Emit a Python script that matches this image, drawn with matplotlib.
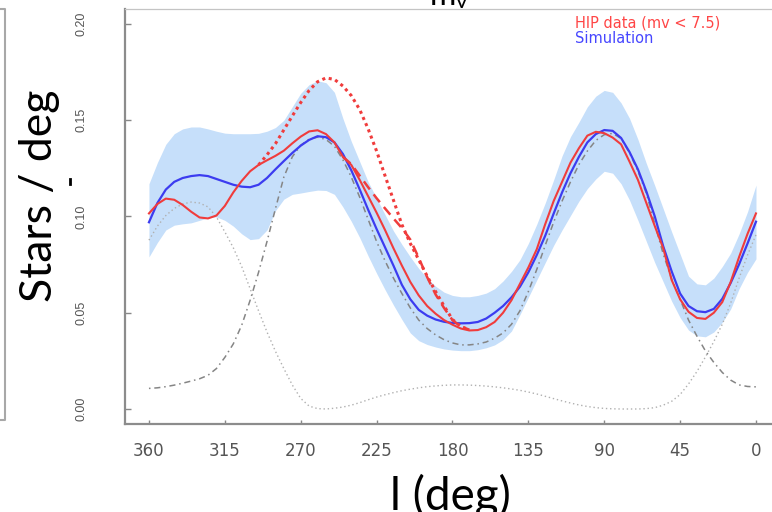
import numpy as np
import matplotlib
matplotlib.use("Agg")
import matplotlib.pyplot as plt
from matplotlib.lines import Line2D

# galactic longitude grid, 360 -> 0 in 5 deg steps
lon = np.arange(360, -1, -5)

sim = [0.0970, 0.1070, 0.1140, 0.1180, 0.1200, 0.1210, 0.1215, 0.1210, 0.1195, 0.1180,
       0.1165, 0.1155, 0.1152, 0.1165, 0.1200, 0.1245, 0.1288, 0.1330, 0.1368, 0.1398,
       0.1417, 0.1412, 0.1385, 0.1325, 0.1240, 0.1140, 0.1035, 0.0935, 0.0840, 0.0745,
       0.0645, 0.0570, 0.0515, 0.0485, 0.0465, 0.0453, 0.0447, 0.0445, 0.0446, 0.0452,
       0.0470, 0.0500, 0.0535, 0.0580, 0.0635, 0.0710, 0.0800, 0.0900, 0.1015, 0.1125,
       0.1225, 0.1310, 0.1385, 0.1428, 0.1449, 0.1445, 0.1408, 0.1335, 0.1245, 0.1130,
       0.1000, 0.0845, 0.0715, 0.0600, 0.0535, 0.0508, 0.0503, 0.0520, 0.0572, 0.0655,
       0.0752, 0.0860, 0.0973]

hip = [0.1016, 0.1065, 0.1093, 0.1087, 0.1060, 0.1025, 0.0995, 0.0990, 0.1005, 0.1055,
       0.1125, 0.1185, 0.1235, 0.1268, 0.1292, 0.1315, 0.1342, 0.1380, 0.1415, 0.1442,
       0.1448, 0.1428, 0.1385, 0.1310, 0.1268, 0.1190, 0.1105, 0.1020, 0.0930, 0.0835,
       0.0745, 0.0660, 0.0590, 0.0535, 0.0495, 0.0462, 0.0438, 0.0418, 0.0408, 0.0410,
       0.0425, 0.0452, 0.0500, 0.0565, 0.0650, 0.0735, 0.0830, 0.0960, 0.1080, 0.1180,
       0.1280, 0.1355, 0.1420, 0.1440, 0.1433, 0.1410, 0.1375, 0.1285, 0.1190, 0.1070,
       0.0950, 0.0835, 0.0670, 0.0570, 0.0505, 0.0473, 0.0468, 0.0500, 0.0555, 0.0660,
       0.0790, 0.0910, 0.1016]

sim_hi = [0.1170, 0.1280, 0.1375, 0.1430, 0.1455, 0.1465, 0.1465, 0.1455, 0.1443, 0.1433,
          0.1430, 0.1430, 0.1430, 0.1432, 0.1443, 0.1462, 0.1500, 0.1570, 0.1640, 0.1685,
          0.1705, 0.1695, 0.1645, 0.1510, 0.1390, 0.1285, 0.1180, 0.1095, 0.1010, 0.0925,
          0.0855, 0.0790, 0.0730, 0.0680, 0.0638, 0.0607, 0.0590, 0.0583, 0.0583, 0.0590,
          0.0602, 0.0625, 0.0665, 0.0715, 0.0775, 0.0860, 0.0960, 0.1070, 0.1190, 0.1315,
          0.1415, 0.1490, 0.1570, 0.1625, 0.1655, 0.1645, 0.1590, 0.1510, 0.1400, 0.1275,
          0.1160, 0.1040, 0.0920, 0.0805, 0.0690, 0.0650, 0.0645, 0.0680, 0.0740, 0.0810,
          0.0910, 0.1025, 0.1163]

sim_lo = [0.0790, 0.0865, 0.0930, 0.0955, 0.0962, 0.0967, 0.0980, 0.0993, 0.0998, 0.0980,
          0.0950, 0.0910, 0.0880, 0.0885, 0.0930, 0.1030, 0.1090, 0.1115, 0.1122, 0.1130,
          0.1137, 0.1135, 0.1115, 0.1050, 0.0975, 0.0890, 0.0795, 0.0705, 0.0620, 0.0540,
          0.0465, 0.0395, 0.0355, 0.0335, 0.0322, 0.0312, 0.0306, 0.0303, 0.0303, 0.0308,
          0.0318, 0.0333, 0.0360, 0.0405, 0.0490, 0.0580, 0.0670, 0.0760, 0.0850, 0.0930,
          0.1005, 0.1080, 0.1145, 0.1195, 0.1235, 0.1225, 0.1170, 0.1085, 0.0980, 0.0870,
          0.0760, 0.0660, 0.0560, 0.0475, 0.0410, 0.0380, 0.0375, 0.0400, 0.0450, 0.0520,
          0.0625, 0.0710, 0.0780]

# model components
comp_thin = [0.0877, 0.0950, 0.1005, 0.1042, 0.1065, 0.1075, 0.1070, 0.1050, 0.0998, 0.0920,
             0.0838, 0.0740, 0.0625, 0.0510, 0.0400, 0.0300, 0.0210, 0.0125, 0.0055, 0.0015,
             0.0002, 0.0000, 0.0004, 0.0010, 0.0020, 0.0033, 0.0048, 0.0062, 0.0074, 0.0085,
             0.0095, 0.0103, 0.0110, 0.0116, 0.0120, 0.0123, 0.0125, 0.0125, 0.0124, 0.0122,
             0.0119, 0.0115, 0.0110, 0.0104, 0.0097, 0.0088, 0.0078, 0.0066, 0.0054, 0.0042,
             0.0031, 0.0021, 0.0013, 0.0007, 0.0003, 0.0001, 0.0000, 0.0000, 0.0000, 0.0002,
             0.0007, 0.0020, 0.0040, 0.0075, 0.0130, 0.0195, 0.0270, 0.0350, 0.0440, 0.0550,
             0.0680, 0.0800, 0.0905]

comp_arm = [0.0107, 0.0110, 0.0116, 0.0124, 0.0134, 0.0145, 0.0157, 0.0175, 0.0210, 0.0268,
            0.0338, 0.0435, 0.0565, 0.0710, 0.0870, 0.1040, 0.1205, 0.1310, 0.1370, 0.1402,
            0.1412, 0.1400, 0.1365, 0.1295, 0.1205, 0.1100, 0.0985, 0.0870, 0.0770, 0.0680,
            0.0600, 0.0525, 0.0462, 0.0418, 0.0385, 0.0360, 0.0343, 0.0333, 0.0333, 0.0338,
            0.0348, 0.0368, 0.0395, 0.0440, 0.0510, 0.0610, 0.0725, 0.0850, 0.0970, 0.1080,
            0.1180, 0.1270, 0.1340, 0.1395, 0.1425, 0.1432, 0.1405, 0.1330, 0.1235, 0.1120,
            0.0960, 0.0805, 0.0675, 0.0570, 0.0462, 0.0378, 0.0302, 0.0242, 0.0190, 0.0150,
            0.0125, 0.0117, 0.0115]

# alternative HIP curves over the 3rd quadrant
lon_dot = np.arange(295, 169, -5)
hip_dot = [0.1268, 0.1320, 0.1378, 0.1450, 0.1522, 0.1592, 0.1655, 0.1700, 0.1720, 0.1712,
           0.1678, 0.1628, 0.1555, 0.1455, 0.1340, 0.1212, 0.1085, 0.0958, 0.0860, 0.0775,
           0.0690, 0.0610, 0.0535, 0.0465, 0.0428, 0.0412]

lon_dash = np.arange(245, 169, -5)
hip_dash = [0.1310, 0.1272, 0.1212, 0.1152, 0.1095, 0.1042, 0.0990, 0.0940, 0.0880, 0.0785,
            0.0685, 0.0595, 0.0525, 0.0462, 0.0428, 0.0412]

xticks = [360, 315, 270, 225, 180, 135, 90, 45, 0]
yticks = [0.00, 0.05, 0.10, 0.15, 0.20]

RED = "#f03c3c"
BLUE = "#3c3cf0"

fig = plt.figure(figsize=(7.72, 5.12), dpi=100)
ax = fig.add_axes([0.1615, 0.1711, 0.8492, 0.8121])

ax.fill_between(lon, sim_lo, sim_hi, color="#c6dffa", linewidth=0, zorder=1)
ax.plot(lon, comp_thin, color="#b0b0b0", lw=1.0, ls=(0, (1, 2)), zorder=2)
ax.plot(lon, comp_arm, color="#858585", lw=1.1, ls=(0, (1, 2.5, 4, 2.5)), zorder=2)
ax.plot(lon, sim, color=BLUE, lw=1.6, zorder=3)
ax.plot(lon, hip, color=RED, lw=1.5, zorder=4)
ax.plot(lon_dot, hip_dot, color=RED, lw=2.2, ls=(0, (1, 1.2)), zorder=4)
ax.plot(lon_dash, hip_dash, color=RED, lw=1.8, ls=(0, (4, 2.5)), zorder=4)

ax.set_xlim(374.4, -14.4)
ax.set_ylim(-0.008, 0.208)
ax.set_xticks(xticks)
ax.set_xticklabels([str(t) for t in xticks], fontsize=12, family="DejaVu Sans", color="#555555")
ax.set_yticks(yticks)
ax.set_yticklabels([f"{t:.2f}" for t in yticks], rotation=90, va="center",
                   fontsize=9, family="Liberation Sans", color="#555555")
ax.tick_params(axis="x", direction="in", length=3, width=1, color="#888888", pad=13)
ax.tick_params(axis="y", direction="in", length=4, width=1, color="#888888", pad=27)

for side in ("left", "bottom"):
    ax.spines[side].set_color("#8c8c8c")
    ax.spines[side].set_linewidth(1.6)
ax.spines["top"].set_color("#c4c4c4")
ax.spines["top"].set_linewidth(0.9)
ax.spines["right"].set_visible(False)

fig.text(575 / 772, 1 - 22.5 / 512, "HIP data (mv < 7.5)", color="#ff4646",
         fontsize=10.5, family="DejaVu Sans", va="center", ha="left")
fig.text(575 / 772, 1 - 38.5 / 512, "Simulation", color="#4646ff",
         fontsize=10.5, family="DejaVu Sans", va="center", ha="left")

# slide overlay labels
fig.text(40 / 772, 1 - 196 / 512, "Stars / deg", rotation=90, ha="center", va="center",
         fontsize=32, family="Lato", color="black")
fig.text(450 / 772, 1 - 510 / 512, "l (deg)", ha="center", va="baseline",
         fontsize=33, family="Lato", color="black")
fig.text(430 / 772, 1 - 5 / 512, "m", ha="left", va="baseline", fontsize=23, family="Lato")
fig.text(456 / 772, 1 - 7.5 / 512, "v", ha="left", va="baseline", fontsize=16, family="Lato")

fig.add_artist(Line2D([70 / 772, 70 / 772], [1 - 178.5 / 512, 1 - 183.5 / 512],
                      transform=fig.transFigure, color="black", lw=2.0))
fig.add_artist(Line2D([0, 5 / 772, 5 / 772, 0], [1 - 9 / 512, 1 - 9 / 512, 1 - 420 / 512, 1 - 420 / 512],
                      transform=fig.transFigure, color="#a8a8a8", lw=1.5))

fig.savefig("out.png", dpi=100)
